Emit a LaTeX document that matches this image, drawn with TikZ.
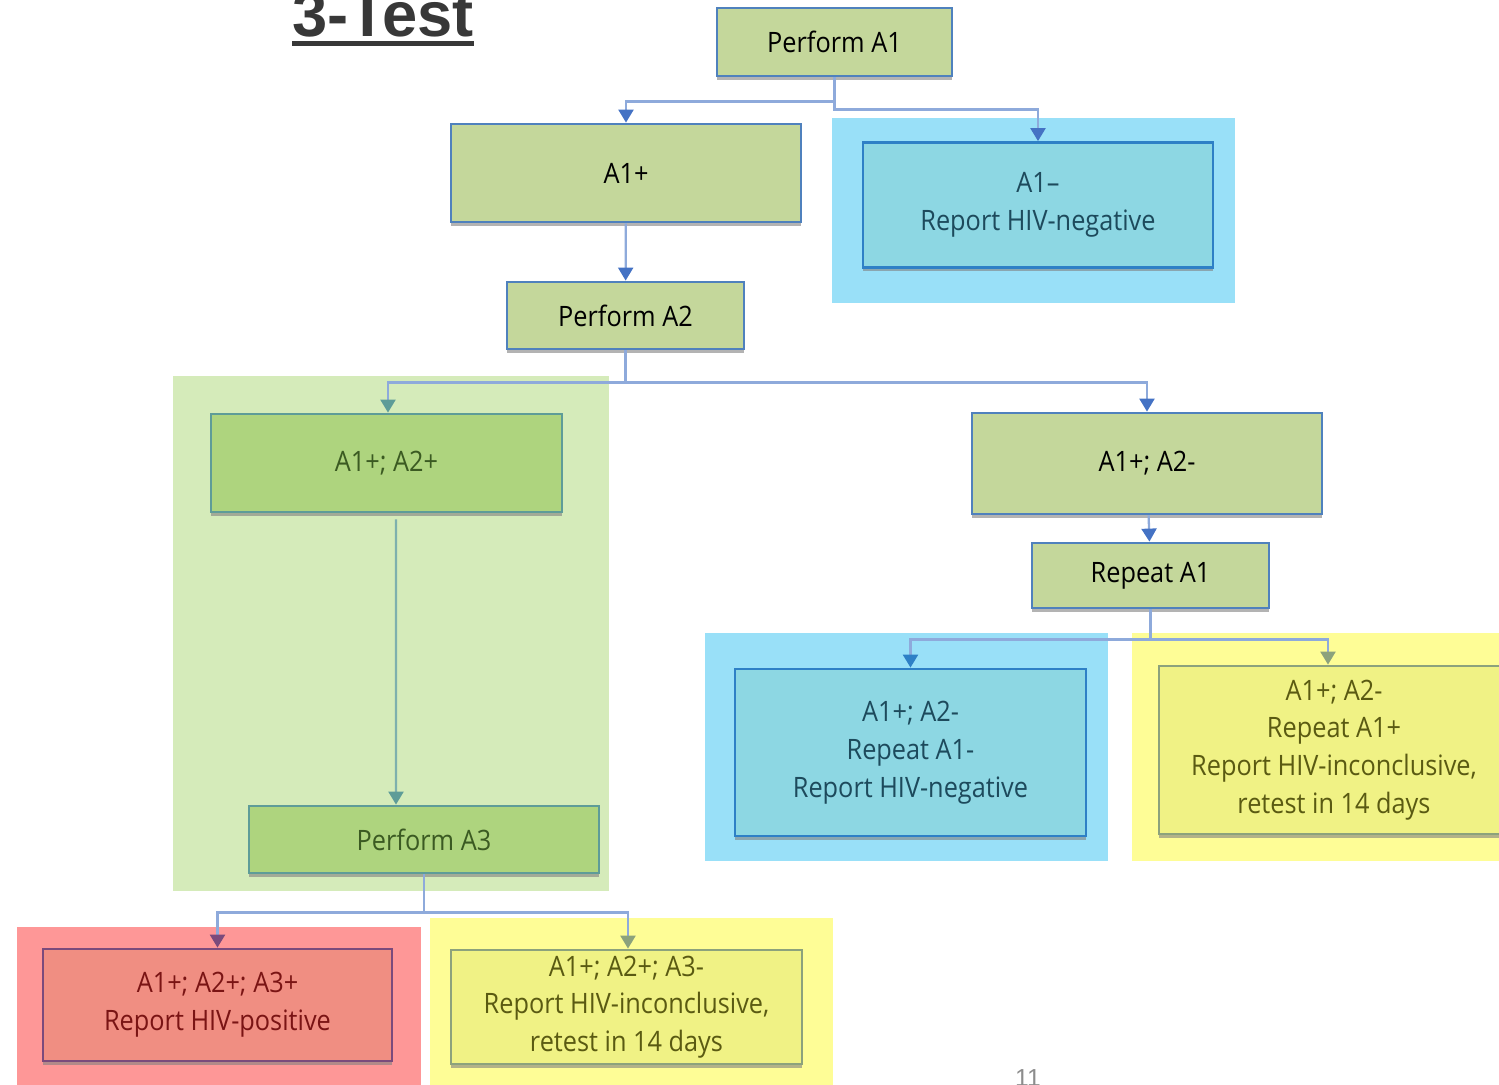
\documentclass[tikz,border=0pt]{standalone}
\usepackage{fontspec}
\setmainfont[FakeStretch=0.9]{Open Sans}
\newfontfamily\titlefont{Liberation Sans}
\usetikzlibrary{arrows.meta}
\usetikzlibrary{shadows}

\definecolor{boxgreen}{HTML}{C4D79B}
\definecolor{boxblue}{HTML}{4F81BD}
\definecolor{linkblue}{HTML}{8EAADB}
\definecolor{tipblue}{HTML}{4472C4}
\definecolor{bgcyan}{HTML}{99E0F8}
\definecolor{boxcyan}{HTML}{8DD7E3}
\definecolor{edgecyan}{HTML}{2E80C6}
\definecolor{txtcyan}{HTML}{1D4A5C}
\definecolor{bggreen}{HTML}{D5EBBA}
\definecolor{boxlime}{HTML}{AED47E}
\definecolor{edgeteal}{HTML}{5E9C98}
\definecolor{txtlime}{HTML}{3B5A22}
\definecolor{bgyellow}{HTML}{FEFD96}
\definecolor{boxyellow}{HTML}{F0F285}
\definecolor{edgeolive}{HTML}{8CA27C}
\definecolor{txtolive}{HTML}{5A5A12}
\definecolor{bgred}{HTML}{FE9797}
\definecolor{boxred}{HTML}{F08E82}
\definecolor{edgeplum}{HTML}{7B4A7C}
\definecolor{txtred}{HTML}{7A1414}
\definecolor{titlegray}{HTML}{383838}

\begin{document}
\begin{tikzpicture}[x=0.02cm,y=-0.02cm,
    stepbox/.style={rectangle,draw=boxblue,line width=1.6pt,fill=boxgreen,
      align=center,inner sep=2pt,font=\fontsize{16}{21.5}\selectfont,
      drop shadow={shadow xshift=0pt,shadow yshift=-0.08cm,fill=black!50,opacity=0.6}},
    cyanbox/.style={stepbox,draw=edgecyan,fill=boxcyan,text=txtcyan},
    limebox/.style={stepbox,draw=edgeteal,fill=boxlime,text=txtlime},
    yellowbox/.style={stepbox,draw=edgeolive,fill=boxyellow,text=txtolive},
    redbox/.style={stepbox,draw=edgeplum,fill=boxred,text=txtred},
    link/.style={draw=linkblue,line width=1.3pt,
      -{Triangle[width=0.3cm,length=0.26cm,color=#1,fill=#1]}},
    link/.default=tipblue]

    \useasboundingbox (0,0) rectangle (1499,1085);
    \clip (0,0) rectangle (1499,1085);

    % shade regions
    \fill[bgcyan] (832,118) rectangle (1235,303);
    \fill[bggreen] (173,376) rectangle (609,891);
    \fill[bgcyan] (705,633) rectangle (1108,861);
    \fill[bgyellow] (1132,633) rectangle (1499,861);
    \fill[bgred] (17,927) rectangle (421,1085);
    \fill[bgyellow] (430,918) rectangle (833,1085);

    % title and page number
    \node[anchor=base west,inner sep=0pt,text=titlegray,
      font=\titlefont\bfseries\fontsize{36}{40}\selectfont] (title) at (292,36) {3-Test};
    \draw[titlegray,line width=0.1cm] ([yshift=-0.15cm]title.base west) -- ([yshift=-0.15cm]title.base east);
    \node[anchor=base,inner sep=0pt,text=black!45,
      font=\titlefont\fontsize{14}{16}\selectfont] (page) at (1028,1086) {11};

    % boxes
    \node[stepbox,minimum width=4.7cm,minimum height=1.36cm] (pa1) at (834.5,42) {Perform A1};
    \node[stepbox,minimum width=7cm,minimum height=1.96cm] (a1pos) at (626,173) {A1+};
    \node[cyanbox,minimum width=7cm,minimum height=2.5cm] (a1neg) at (1038,205) {A1–\\Report HIV-negative};
    \node[stepbox,minimum width=4.74cm,minimum height=1.34cm] (pa2) at (625.5,315.5) {Perform A2};
    \node[limebox,minimum width=7.02cm,minimum height=1.96cm] (a12p) at (386.5,463) {A1+; A2+};
    \node[limebox,minimum width=7cm,minimum height=1.34cm] (pa3) at (424,839.5) {Perform A3};
    \node[stepbox,minimum width=7cm,minimum height=2.02cm] (a12m) at (1147,463.5) {A1+; A2-};
    \node[stepbox,minimum width=4.74cm,minimum height=1.3cm] (rep1) at (1150.5,575.5) {Repeat A1};
    \node[cyanbox,minimum width=7.02cm,minimum height=3.34cm] (rep1neg) at (910.5,752.5)
      {A1+; A2-\\Repeat A1-\\Report HIV-negative};
    \node[yellowbox,minimum width=7cm,minimum height=3.36cm] (rep1pos) at (1334,750)
      {A1+; A2-\\Repeat A1+\\Report HIV-inconclusive,\\retest in 14 days};
    \node[redbox,minimum width=6.98cm,minimum height=2.24cm] (a3pos) at (217.5,1005)
      {A1+; A2+; A3+\\Report HIV-positive};
    \node[yellowbox,minimum width=7.02cm,minimum height=2.28cm] (a3neg) at (626.5,1007)
      {A1+; A2+; A3-\\Report HIV-inconclusive,\\retest in 14 days};

    % connectors
    \draw[link] (pa1.south) -- ++(0,24) -| (a1pos.north);
    \draw[link] (pa1.south) -- ++(0,32) -| (a1neg.north);
    \draw[link] (a1pos) -- (pa2);
    \draw[link=edgeteal] (pa2.south) -- ++(0,32) -| ([xshift=0.03cm]a12p.north);
    \draw[link] (pa2.south) -- ++(0,32) -| (a12m.north);
    \draw[link=edgeteal,draw=edgeteal!80] ([xshift=0.19cm,yshift=-0.12cm]a12p.south) -- ([xshift=-0.56cm]pa3.north);
    \draw[link] (a12m) -- (rep1);
    \draw[link=edgecyan] (rep1.south) -- ++(0,30) -| (rep1neg.north);
    \draw[link=edgeolive] (rep1.south) -- ++(0,30) -| ([xshift=-0.12cm]rep1pos.north);
    \draw[link=edgeplum] (pa3.south) -- ++(0,38) -| (a3pos.north);
    \draw[link=edgeolive] (pa3.south) -- ++(0,38) -| ([xshift=0.03cm]a3neg.north);

\end{tikzpicture}
\end{document}
